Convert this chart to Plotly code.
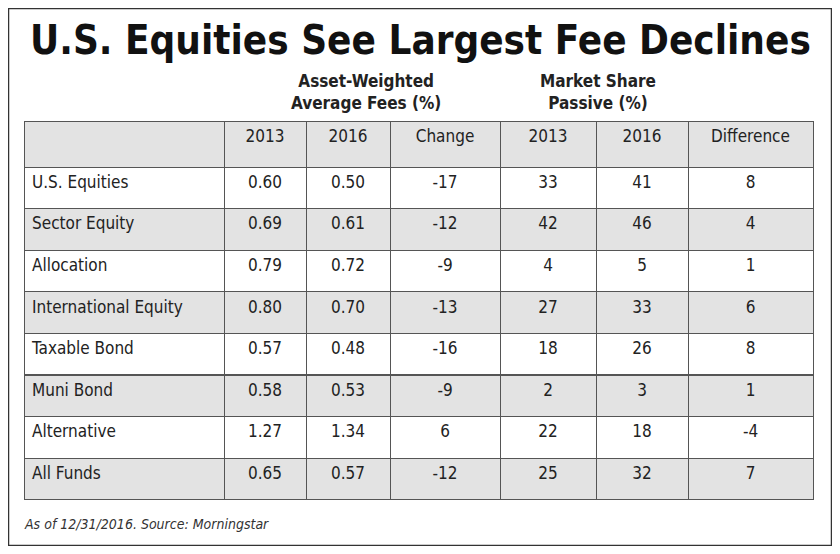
import plotly.graph_objects as go

# page body has an 8px margin, so the figure is drawn 16px smaller and offset
W, H = 824, 538
OFF = 8

categories = ["U.S. Equities", "Sector Equity", "Allocation", "International Equity",
              "Taxable Bond", "Muni Bond", "Alternative", "All Funds"]
fee_2013 = ["0.60", "0.69", "0.79", "0.80", "0.57", "0.58", "1.27", "0.65"]
fee_2016 = ["0.50", "0.61", "0.72", "0.70", "0.48", "0.53", "1.34", "0.57"]
fee_change = [-17, -12, -9, -13, -16, -9, 6, -12]
share_2013 = [33, 42, 4, 27, 18, 2, 22, 25]
share_2016 = [41, 46, 5, 33, 26, 3, 18, 32]
share_diff = [8, 4, 1, 6, 8, 1, -4, 7]
headers = ["", "2013", "2016", "Change", "2013", "2016", "Difference"]


def px(x):
    return (x - OFF) / W


def py(y):
    return 1 - (y - OFF) / H


FONT = "DejaVu Sans Condensed, Liberation Sans Narrow, sans-serif"
GRAY = "#e3e3e3"
row_fill = [("white" if i % 2 == 0 else GRAY) for i in range(len(categories))]

fig = go.Figure(go.Table(
    domain=dict(x=[px(24), px(813)], y=[0, py(121)]),
    columnwidth=[200, 82, 84, 110, 96, 92, 125],
    header=dict(values=headers, height=46, fill_color=GRAY,
                line=dict(color="#555", width=1), align="center",
                font=dict(family=FONT, size=17, color="#222")),
    cells=dict(values=[categories, fee_2013, fee_2016, fee_change,
                       share_2013, share_2016, share_diff],
               height=41.6, fill_color=[row_fill] * 7,
               line=dict(color="#555", width=1),
               align=["left"] + ["center"] * 6,
               font=dict(family=FONT, size=17, color="#222")),
))

fig.add_shape(type="rect", xref="paper", yref="paper",
              x0=px(8.5), x1=px(831.5), y0=py(545.5), y1=py(8.5),
              line=dict(color="#333", width=1.5))
fig.add_annotation(text="<b>U.S. Equities See Largest Fee Declines</b>", x=px(420), y=py(40),
                   xref="paper", yref="paper", showarrow=False, yanchor="middle",
                   font=dict(family=FONT, size=40, color="#111"))
fig.add_annotation(text="<b>Asset-Weighted<br>Average Fees (%)</b>", x=px(366), y=py(92),
                   xref="paper", yref="paper", showarrow=False, yanchor="middle",
                   font=dict(family=FONT, size=17, color="#222"))
fig.add_annotation(text="<b>Market Share<br>Passive (%)</b>", x=px(658), y=py(92),
                   xref="paper", yref="paper", showarrow=False, yanchor="middle",
                   font=dict(family=FONT, size=17, color="#222"))
fig.add_annotation(text="<i>As of 12/31/2016. Source: Morningstar</i>", x=px(22), y=py(524),
                   xref="paper", yref="paper", showarrow=False, xanchor="left", yanchor="middle",
                   font=dict(family=FONT, size=14, color="#333"))

fig.update_layout(width=W, height=H, margin=dict(l=0, r=0, t=0, b=0),
                  paper_bgcolor="white", plot_bgcolor="white")
fig.write_html("out.html")
